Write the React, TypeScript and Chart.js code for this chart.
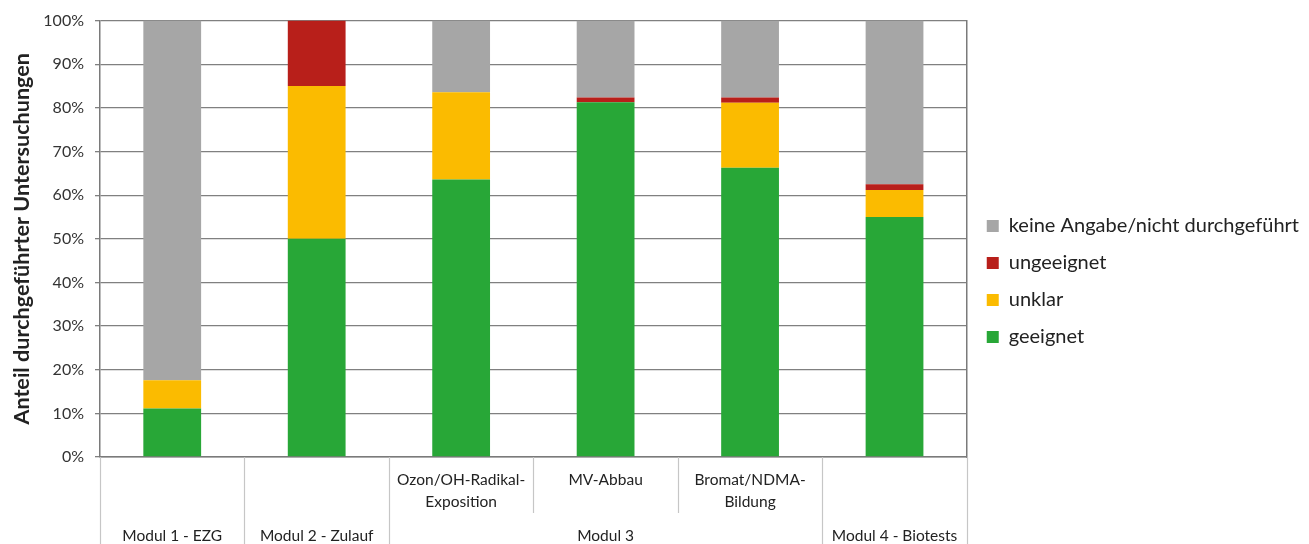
import React, { useEffect, useRef } from 'react';
import { Chart, registerables } from 'chart.js';

Chart.register(...registerables);

// ---- data ----
const categoryKeys = ['Modul 1 - EZG', 'Modul 2 - Zulauf', 'Ozon/OH-Radikal-Exposition', 'MV-Abbau', 'Bromat/NDMA-Bildung', 'Modul 4 - Biotests'];
const subLabelLines: string[][] = [[], [], ['Ozon/OH-Radikal-', 'Exposition'], ['MV-Abbau'], ['Bromat/NDMA-', 'Bildung'], []];
const groupLabels = ['Modul 1 - EZG', 'Modul 2 - Zulauf', 'Modul 3', 'Modul 4 - Biotests'];
const groupSizes = [1, 1, 3, 1];

const geeignet = [11.1, 50.0, 63.6, 81.3, 66.3, 55.0];
const unklar = [6.5, 35.0, 20.0, 0, 14.9, 6.2];
const ungeeignet = [0, 15.0, 0, 1.1, 1.2, 1.3];
const keineAngabe = [82.4, 0, 16.4, 17.6, 17.6, 37.5];

const yTickValues = [0, 10, 20, 30, 40, 50, 60, 70, 80, 90, 100];
const yAxisTitle = 'Anteil durchgeführter Untersuchungen';

const FONT = 'Lato, "Open Sans", sans-serif';

const multiLevelAxis = {
  id: 'multiLevelAxis',
  afterDraw(chart: any) {
    const { ctx, chartArea } = chart;
    const x = chart.scales.x;
    const n = categoryKeys.length;
    const catW = (chartArea.right - chartArea.left) / n;
    const top = chartArea.bottom;
    const bottom = chart.height;
    const rowSplit = top + 56;

    const groupBounds = new Set<number>();
    let acc = 0;
    groupBounds.add(0);
    groupSizes.forEach((s) => { acc += s; groupBounds.add(acc); });

    ctx.save();
    ctx.strokeStyle = '#c6c6c6';
    ctx.lineWidth = 1.2;
    for (let i = 0; i <= n; i++) {
      const px = i < n ? x.getPixelForValue(i) - catW / 2 : x.getPixelForValue(n - 1) + catW / 2;
      const endY = groupBounds.has(i) ? bottom : rowSplit;
      ctx.beginPath();
      ctx.moveTo(Math.round(px) + 0.5, top);
      ctx.lineTo(Math.round(px) + 0.5, endY);
      ctx.stroke();
    }

    ctx.fillStyle = '#222';
    ctx.font = `15.5px ${FONT}`;
    ctx.textAlign = 'center';
    ctx.textBaseline = 'middle';
    subLabelLines.forEach((lines, i) => {
      const cx = x.getPixelForValue(i);
      lines.forEach((ln, j) => {
        ctx.fillText(ln, cx, top + 23 + j * 22);
      });
    });

    let start = 0;
    groupLabels.forEach((g, gi) => {
      const size = groupSizes[gi];
      const l = x.getPixelForValue(start) - catW / 2;
      const r = x.getPixelForValue(start + size - 1) + catW / 2;
      ctx.fillText(g, (l + r) / 2, top + 79);
      start += size;
    });
    ctx.restore();
  },
};

export default function App() {
  const ref = useRef<HTMLCanvasElement | null>(null);

  useEffect(() => {
    if (!ref.current) return;
    const chart = new Chart(ref.current, {
      type: 'bar',
      data: {
        labels: categoryKeys,
        datasets: [
          { label: 'geeignet', data: geeignet, backgroundColor: '#28a737' },
          { label: 'unklar', data: unklar, backgroundColor: '#fbbb00' },
          { label: 'ungeeignet', data: ungeeignet, backgroundColor: '#b81f1a' },
          { label: 'keine Angabe/nicht durchgeführt', data: keineAngabe, backgroundColor: '#a6a6a6' },
        ],
      },
      plugins: [multiLevelAxis],
      options: {
        animation: false,
        responsive: true,
        maintainAspectRatio: false,
        layout: { padding: { top: 19, left: 0, right: 0, bottom: 0 } },
        datasets: { bar: { categoryPercentage: 1, barPercentage: 0.4 } },
        plugins: {
          tooltip: { enabled: false },
          legend: {
            position: 'right',
            align: 'center',
            reverse: true,
            maxWidth: 500,
            labels: {
              boxWidth: 12,
              boxHeight: 12,
              padding: 17,
              color: '#222',
              font: { family: FONT, size: 20 },
            },
          },
        },
        scales: {
          x: {
            stacked: true,
            grid: { display: false },
            border: { display: true, color: '#7a7a7a', width: 1.5 },
            ticks: { display: false },
            afterFit: (s: any) => { s.height = 87; },
          },
          y: {
            stacked: true,
            min: 0,
            max: 100,
            afterBuildTicks: (s: any) => { s.ticks = yTickValues.map((v) => ({ value: v })); },
            ticks: {
              color: '#333',
              padding: 11,
              font: { family: FONT, size: 16 },
              callback: (v: any) => `${v}%`,
            },
            grid: { color: '#808080', lineWidth: 1.3, tickLength: 5 },
            border: { display: true, color: '#7a7a7a', width: 1.5 },
            title: {
              display: true,
              text: yAxisTitle,
              color: '#222',
              font: { family: FONT, size: 21.6, weight: 'bold' },
              padding: { top: 9, bottom: 0 },
            },
            afterFit: (s: any) => { s.width = 100; },
          },
          y2: {
            position: 'right',
            min: 0,
            max: 1,
            grid: { display: true, drawOnChartArea: false, drawTicks: false },
            ticks: { display: false },
            border: { display: true, color: '#7a7a7a', width: 1.5 },
            afterFit: (s: any) => { s.width = 3; },
          },
        },
      },
    });
    return () => chart.destroy();
  }, []);

  return (
    <div style={{ position: 'fixed', left: 0, top: 0, width: 1309, height: 544, background: '#fff' }}>
      <canvas ref={ref} />
    </div>
  );
}
